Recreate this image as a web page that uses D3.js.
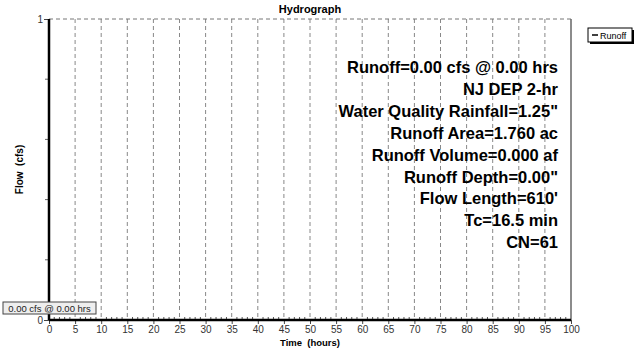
<!DOCTYPE html>
<html lang="en">
<head>
<meta charset="UTF-8">
<title>Hydrograph</title>
<script src="https://d3js.org/d3.v7.min.js"></script>
<style>
  body { margin: 0; background: #fff; }
  svg { font-family: "Liberation Sans", Arial, sans-serif; }
  .tick text { font-size: 10px; fill: #333; }
  .note { font-size: 16.5px; font-weight: 700; text-anchor: end; fill: #000; }
</style>
</head>
<body>
<svg width="634" height="350"></svg>
<script>
// runoff series (hours, cfs) -- flat zero
const runoffTime = [0, 100];
const runoffFlow = [0, 0];
const xTicks = d3.range(0, 101, 5);
const yTicks = [0, 1];
const notes = [
  "Runoff=0.00 cfs @ 0.00 hrs",
  "NJ DEP 2-hr",
  "Water Quality Rainfall=1.25\"",
  "Runoff Area=1.760 ac",
  "Runoff Volume=0.000 af",
  "Runoff Depth=0.00\"",
  "Flow Length=610'",
  "Tc=16.5 min",
  "CN=61"
];
const peakLabel = "0.00 cfs @ 0.00 hrs";

const svg = d3.select("svg");
const m = {left: 49, right: 571, top: 19, bottom: 320};

const x = d3.scaleLinear().domain([0, 100]).range([m.left, m.right]);
const y = d3.scaleLinear().domain([0, 1]).range([m.bottom, m.top]);

// grid
svg.append("g").selectAll("line")
  .data(xTicks.filter(d => d > 0 && d < 100))
  .join("line")
  .attr("x1", d => x(d)).attr("x2", d => x(d))
  .attr("y1", y(1)).attr("y2", y(0))
  .attr("stroke", "#888").attr("stroke-dasharray", "4,3");
svg.append("line")
  .attr("x1", x(0)).attr("x2", x(100))
  .attr("y1", y(1)).attr("y2", y(1))
  .attr("stroke", "#777").attr("stroke-dasharray", "4,3");
svg.append("line")
  .attr("x1", x(100)).attr("x2", x(100))
  .attr("y1", y(1)).attr("y2", y(0))
  .attr("stroke", "#666").attr("stroke-width", 1.5);

// x axis
const xa = svg.append("g").attr("transform", `translate(0,${y(0)})`)
  .call(d3.axisBottom(x).tickValues(xTicks).tickSize(4).tickPadding(2).tickFormat(d3.format("d")));
xa.select(".domain").remove();
xa.selectAll("line").attr("stroke", "#444");
// minor ticks inside
svg.append("g").selectAll("line")
  .data(d3.range(1, 100).filter(d => d % 5 !== 0))
  .join("line")
  .attr("x1", d => x(d)).attr("x2", d => x(d))
  .attr("y1", y(0)).attr("y2", y(0) - 3)
  .attr("stroke", "#555");

// y axis
const ya = svg.append("g").attr("transform", `translate(${x(0)},0)`)
  .call(d3.axisLeft(y).tickValues(yTicks).tickSize(5).tickPadding(1).tickFormat(d3.format("d")));
ya.select(".domain").remove();
ya.selectAll("line").attr("stroke", "#444");
svg.append("g").selectAll("line")
  .data([0.2, 0.4, 0.6, 0.8])
  .join("line")
  .attr("x1", x(0) - 4).attr("x2", x(0))
  .attr("y1", d => y(d)).attr("y2", d => y(d))
  .attr("stroke", "#666");
svg.append("line")
  .attr("x1", x(0)).attr("x2", x(0))
  .attr("y1", y(1)).attr("y2", y(0))
  .attr("stroke", "#000").attr("stroke-width", 2.5);

// runoff line
svg.append("path")
  .datum(runoffTime.map((t, i) => [t, runoffFlow[i]]))
  .attr("d", d3.line().x(d => x(d[0])).y(d => y(d[1])))
  .attr("stroke", "#000").attr("stroke-width", 2.5).attr("fill", "none");

// titles
svg.append("text").attr("x", 310).attr("y", 13).attr("text-anchor", "middle")
  .attr("font-size", 11).attr("font-weight", "bold").text("Hydrograph");
svg.append("text").attr("x", 310).attr("y", 346).attr("text-anchor", "middle")
  .attr("font-size", 9.5).attr("font-weight", "bold").attr("xml:space", "preserve").text("Time  (hours)");
svg.append("text").attr("transform", `translate(23,${(m.top + m.bottom) / 2}) rotate(-90)`)
  .attr("text-anchor", "middle").attr("font-size", 10).attr("font-weight", "bold")
  .attr("xml:space", "preserve").text("Flow  (cfs)");

// notes
svg.append("g").selectAll("text")
  .data(notes)
  .join("text")
  .attr("class", "note")
  .attr("x", 558)
  .attr("y", (d, i) => 73 + i * 21.9)
  .text(d => d);

// peak label box
const pk = svg.append("g").attr("transform", `translate(3,302)`);
pk.append("rect").attr("width", 93).attr("height", 12)
  .attr("fill", "#eee").attr("stroke", "#444");
pk.append("text").attr("x", 46.5).attr("y", 9.5).attr("text-anchor", "middle")
  .attr("font-size", 9.5).attr("fill", "#222").text(peakLabel);

// legend
const lg = svg.append("g").attr("transform", "translate(588,28)");
lg.append("rect").attr("x", 2).attr("y", 2).attr("width", 44).attr("height", 14).attr("fill", "#000");
lg.append("rect").attr("width", 44).attr("height", 14).attr("fill", "#fff").attr("stroke", "#000");
lg.append("line").attr("x1", 4).attr("x2", 10).attr("y1", 7).attr("y2", 7).attr("stroke", "#000").attr("stroke-width", 1.5);
lg.append("text").attr("x", 12).attr("y", 10.5).attr("font-size", 9).attr("fill", "#000").text("Runoff");
</script>
</body>
</html>
